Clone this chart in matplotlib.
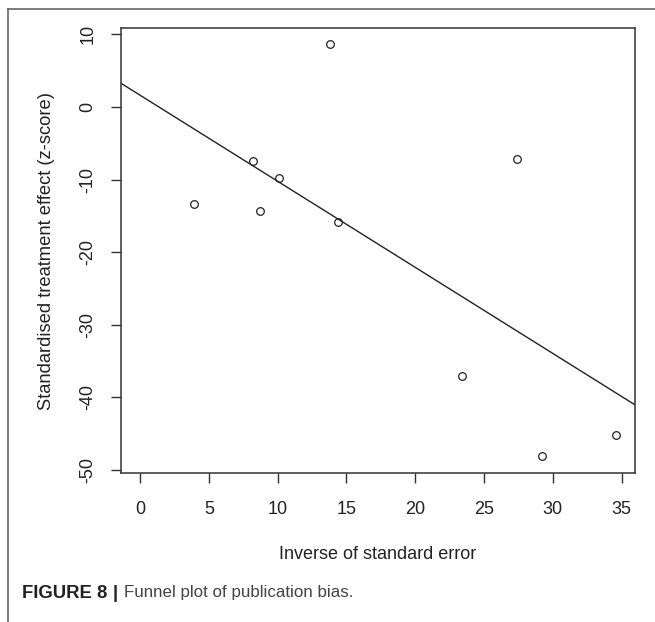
import numpy as np
import matplotlib
matplotlib.use("Agg")
import matplotlib.pyplot as plt
from matplotlib.lines import Line2D

# inverse of standard error (precision) and z-score per study
precision = [3.9, 8.2, 8.7, 10.1, 13.8, 14.4, 23.4, 27.4, 29.2, 34.6]
zscore = [-13.3, -7.5, -14.3, -9.8, 8.6, -15.9, -37.0, -7.2, -48.1, -45.2]

# fitted regression line
intercept = 1.62
slope = -1.185

xticks = [0, 5, 10, 15, 20, 25, 30, 35]
yticks = [10, 0, -10, -20, -30, -40, -50]

plt.rcParams['font.family'] = ['Liberation Sans', 'DejaVu Sans']
dark = '#222222'

fig = plt.figure(figsize=(6.55, 6.22), dpi=100)
ax = fig.add_axes([121/655, 1 - 473/622, 514/655, 445/622])

ax.plot(precision, zscore, 'o', mfc='none', mec=dark, ms=5.5, mew=0.9)
ax.axline((0, intercept), slope=slope, color=dark, lw=1.0)

ax.set_xlim(-1.384, 35.98)
ax.set_ylim(-50.4, 10.87)
ax.set_xticks(xticks)
ax.set_yticks(yticks)
ax.set_yticklabels([str(t) for t in yticks], rotation=90, va='center')

for s in ax.spines.values():
    s.set_color('#333333')
    s.set_linewidth(1.1)
ax.tick_params(direction='out', length=7.5, width=1.0, color='#333333',
               labelsize=13, labelcolor=dark)
ax.tick_params(axis='x', pad=13)
ax.tick_params(axis='y', pad=10)

ax.set_xlabel('Inverse of standard error', fontsize=13, color=dark, va='center')
ax.xaxis.set_label_coords(0.5, -0.184)
ax.set_ylabel('Standardised treatment effect (z-score)', fontsize=13.2,
              color=dark, va='center')
ax.yaxis.set_label_coords(-0.144, 0.5)

# outer figure frame (left and top edges)
fig.add_artist(Line2D([8/655, 8/655], [0, 1 - 9/622], color='#666666', lw=1.2))
fig.add_artist(Line2D([8/655, 1], [1 - 9/622, 1 - 9/622], color='#666666', lw=1.2))

cap_y = 1 - 593/622
fig.text(22/655, cap_y, 'FIGURE 8', fontsize=13.3, fontweight='bold',
         color='#222222', va='center')
fig.text(113/655, cap_y, '|', fontsize=13.3, fontweight='bold',
         color='#222222', va='center')
fig.text(124/655, cap_y, 'Funnel plot of publication bias.', fontsize=12.2,
         color='#444444', va='center')

fig.savefig('out.png', dpi=100)
